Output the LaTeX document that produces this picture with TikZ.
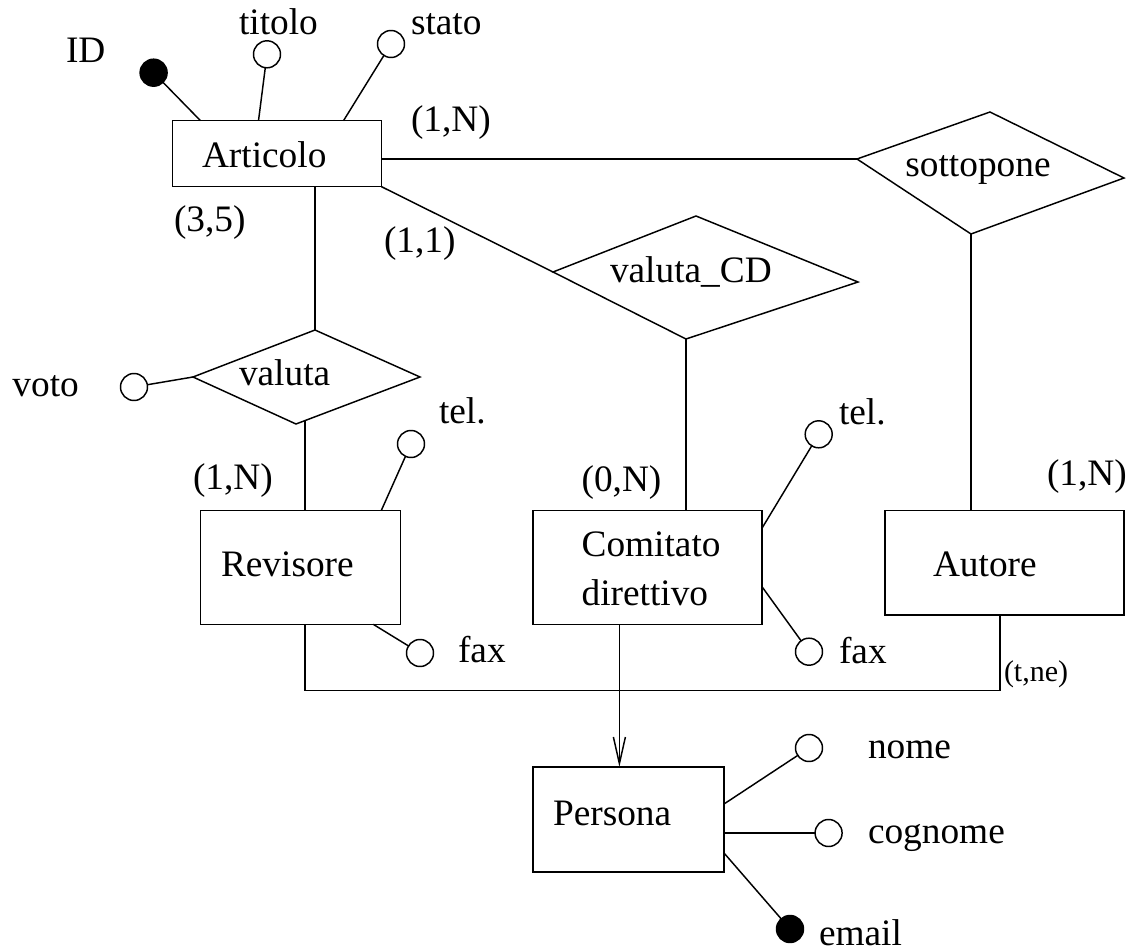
\documentclass[tikz,border=0pt]{standalone}
\usepackage{fontspec}
\setmainfont{Liberation Serif}
\usetikzlibrary{calc,arrows.meta}
\begin{document}
\begin{tikzpicture}[x=0.75pt,y=-0.75pt,line width=1.1pt,
  every node/.style={inner sep=0pt, outer sep=0pt},
  txt/.style={anchor=base west, font=\fontsize{28}{34}\selectfont},
  smalltxt/.style={anchor=base west, font=\fontsize{22.5}{27}\selectfont},
  entity/.style={draw, rectangle, line width=1.1pt},
  attr/.style={draw, circle, minimum size=20.25pt, line width=1.1pt},
  keyattr/.style={attr, fill=black}]
\useasboundingbox (0,0) rectangle (1133,952);

% entities
\node[entity, minimum width=156.75pt, minimum height=49.5pt] (art) at (277,153.7) {};
\node[entity, minimum width=150pt, minimum height=85.2pt] (rev) at (300.7,567.5) {};
\node[entity, minimum width=171.75pt, minimum height=85.2pt] (com) at (647.5,567.5) {};
\node[entity, minimum width=179.25pt, minimum height=78.2pt] (aut) at (1004.5,562.9) {};
\node[entity, minimum width=143.25pt, minimum height=78.75pt] (per) at (628.5,819.5) {};

% entity names
\node[txt] (t-art) at (202,168) {Articolo};
\node[txt] (t-rev) at (221,576) {Revisore};
\node[txt] (t-com1) at (581.6,556.7) {Comitato};
\node[txt] (t-com2) at (581.6,605) {direttivo};
\node[txt] (t-aut) at (933,576.7) {Autore};
\node[txt] (t-per) at (553,825) {Persona};

% relationships (skewed diamonds)
\coordinate (sotL) at (857,159);
\coordinate (sotT) at (990,112);
\coordinate (sotR) at (1124,178);
\coordinate (sotB) at (971,234);
\draw (sotL) -- (sotT) -- (sotR) -- (sotB) -- cycle;
\node[txt, anchor=base] (t-sot) at (978,177) {sottopone};

\coordinate (cdL) at (553,272);
\coordinate (cdT) at (696,216);
\coordinate (cdR) at (858,282);
\coordinate (cdB) at (686,339);
\draw (cdL) -- (cdT) -- (cdR) -- (cdB) -- cycle;
\node[txt] (t-cd) at (610,283) {valuta\_CD};

\coordinate (valL) at (193,377);
\coordinate (valT) at (315,330);
\coordinate (valR) at (420,377);
\coordinate (valB) at (296,424);
\draw (valL) -- (valT) -- (valR) -- (valB) -- cycle;
\node[txt] (t-val) at (239,386) {valuta};
\coordinate (val-foot) at (305,420.6);

% attributes
\node[keyattr] (id) at (153.6,72.7) {};
\node[attr] (titolo) at (267,54.3) {};
\node[attr] (stato) at (391,44) {};
\node[attr] (voto) at (134,387) {};
\node[attr] (tel1) at (411,444) {};
\node[attr] (fax1) at (420,653) {};
\node[attr] (tel2) at (818.7,434.3) {};
\node[attr] (fax2) at (809,651.7) {};
\node[attr] (nome) at (809,748) {};
\node[attr] (cognome) at (828.6,833) {};
\node[keyattr] (email) at (790,929) {};

\node[txt] (t-id) at (66,63) {ID};
\node[txt] (t-titolo) at (239,35) {titolo};
\node[txt] (t-stato) at (411,35) {stato};
\node[txt] (t-voto) at (12.5,397) {voto};
\node[txt] (t-tel1) at (439,424) {tel.};
\node[txt] (t-fax1) at (458,662) {fax};
\node[txt] (t-tel2) at (839,425) {tel.};
\node[txt] (t-fax2) at (839,663) {fax};
\node[txt] (t-nome) at (868,758) {nome};
\node[txt] (t-cognome) at (868,843) {cognome};
\node[txt] (t-email) at (819,945) {email};

% cardinalities
\node[txt] (c-art-sot) at (411,132) {(1,N)};
\node[txt] (c-art-val) at (174,232) {(3,5)};
\node[txt] (c-art-cd) at (384,253) {(1,1)};
\node[txt] (c-rev) at (193,490) {(1,N)};
\node[txt] (c-com) at (581.6,491.7) {(0,N)};
\node[txt] (c-aut) at (1047,486) {(1,N)};
\node[smalltxt] (c-isa) at (1004,681) {(t,ne)};

% attribute links
\draw (id) -- ($(art.north west)+(28,0)$);
\draw (titolo) -- ($(art.north west)+(86,0)$);
\draw (stato) -- ($(art.north west)+(171,0)$);
\draw (voto) -- (valL);
\draw (tel1) -- ($(rev.north west)+(180.5,0)$);
\draw (fax1) -- ($(rev.south west)+(172.5,0)$);
\draw (tel2) -- ($(com.north east)+(0,17.5)$);
\draw (fax2) -- ($(com.north east)+(0,76)$);
\draw (nome) -- ($(per.north east)+(0,37)$);
\draw (cognome) -- (per.east |- cognome);
\draw (email) -- ($(per.north east)+(0,86)$);

% relationship links
\draw (art.east |- sotL) -- (sotL);
\draw (art.south east) -- (cdL);
\draw (valT |- art.south) -- (valT);
\draw (val-foot) -- (val-foot |- rev.north);
\draw (cdB) -- (cdB |- com.north);
\draw (sotB) -- (sotB |- aut.north);

% generalization
\coordinate (isa) at (0,690.7);
\coordinate (aut-foot) at ($(aut.south west)+(115,0)$);
\coordinate (gen) at (619.4,0);
\draw (rev.south -| val-foot) -- (val-foot |- isa) -| (aut-foot);
\draw[-{Straight Barb[length=20pt,width=9pt]}] (com.south -| gen) -- (per.north -| gen);
\end{tikzpicture}
\end{document}
